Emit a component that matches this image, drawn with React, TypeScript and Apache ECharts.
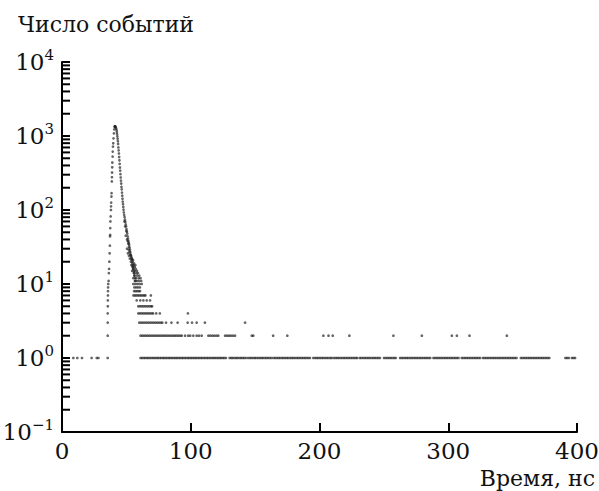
import { useEffect, useRef } from "react";
import * as echarts from "echarts";

// Event counts per time bin; each row is one integer count level.
const level1X = [
  8.8, 11.9, 15.5, 23, 27, 28.3,
  61, 62.2, 63.5, 64.7, 66, 67.1, 68.4, 69.6, 70.9, 72.1, 73.4, 74.5, 75.8, 77, 78.3, 79.4, 80.7, 81.9, 83.2, 84.3,
  85.6, 86.8, 88.1, 89.2, 90.5, 91.7, 93, 94.1, 95.4, 96.6, 97.9, 99, 100.3, 101.5, 102.8, 103.9, 105.2, 106.4,
  107.7, 108.8, 110.1, 111.3, 112.6, 113.7, 115, 116.2, 117.5, 118.6, 119.9, 121.1, 122.4, 123.5, 124.8, 126, 127.3,
  130.2, 131.5, 132.6, 134, 135.3, 136.4, 137.8, 139, 140.3, 141.5, 142.9, 144.6, 146, 147.2, 148.6, 149.8, 151,
  152.4, 153.7, 155, 156.1, 157.5, 158.8, 160, 161.4, 162.7,
  164.3, 165.6, 166.9, 168.2, 169.4, 170.8, 172, 173.3, 174.6, 175.8, 177.2, 178.5, 179.7, 181, 182.4, 183.6,
  184.9, 186.2, 187.5, 188.7, 190, 191.3, 192.6,
  195.2, 196.6, 197.9, 199.1, 200.5, 201.8, 203, 204.4, 205.7, 207, 208.4, 209.5,
  211.2, 212.5, 213.8, 215, 216.4, 217.7, 219, 220.3, 221.6, 222.9, 224.2, 225.5, 226.8, 228.1, 229.2,
  231.2, 232.5, 233.9, 235.2, 236.5, 237.8, 239, 240.4, 241.7, 243, 244.3, 245.6, 246.9,
  250.1, 251.5, 252.8, 254.1, 255.4, 256.7, 258, 259.2,
  262.6, 263.9, 265.2, 266.5, 267.8, 269, 270.4, 271.7, 273, 274.3, 275.6, 276.9, 278.2, 279.5, 280.8, 282.1,
  283.4, 284.7, 286,
  288.5, 289.8, 291.1, 292.4, 293.7, 295, 296.3, 297.6, 298.9, 300.2, 301.5, 302.8, 304.1, 305.4, 306.7, 308,
  310.5, 311.8, 313.1, 314.4, 315.7, 317, 318.3, 319.6, 320.9, 322.2, 323.5, 324.8,
  327, 328.3, 329.6, 330.9, 332.2, 333.5, 334.8, 336.1, 337.4, 338.7, 340, 341.3, 342.6, 343.9, 345.2, 346.5,
  347.8, 349.1, 350.4, 351.7, 353,
  356.4, 357.7, 359, 360.3, 361.6, 362.9, 364.2, 365.5, 366.8, 368.1, 369.4, 370.7, 372, 373.3, 374.6, 375.9,
  377.2, 378.5,
  391, 392.3, 393.6, 396, 397.3, 398.5,
];
const level2X = [
  61, 62.4, 63.8, 65.2, 66.6, 68, 69.4, 70.8, 72.2, 73.6, 75, 76.4, 77.8, 79.2, 80.6, 82, 83.4, 84.8, 86.2, 87.6,
  88.9, 90.3, 91.7, 93, 95.6, 98, 99.6, 102, 104.6, 106.4, 108.5, 113.7, 115.2, 116.8, 118.3, 119.9, 121.4,
  126.7, 128.2, 129.7, 131.2, 132.8, 134.4, 147.4, 148.6, 164, 175, 203, 207, 210.3, 223.2, 257.4, 279.5,
  302.8, 306.7, 316.5, 345.5,
];
const level3X = [
  60, 61.4, 62.8, 64.2, 65.6, 67, 68.4, 69.8, 71.2, 72.6, 74, 75.4, 76.8, 77.9, 80.8, 85, 89.8, 97.6, 101,
  104.6, 111, 142.2,
];
const level4X = [59.3, 60.6, 61.9, 63.2, 64.5, 65.8, 67.1, 68.4, 69.7, 70.8, 73.2, 76, 97.8];
const level5X = [59.3, 60.7, 62.1, 63.5, 64.9, 66.3, 67.7, 69.1, 70];
const level6X = [58, 60.8, 63.2, 65.8, 68.4];
const level7X = [55.5, 56.7, 57.9, 59.1, 60.3, 61.5, 62.7, 63.9, 64.8, 69];
const level8X = [56, 57.2, 58.4, 59.6, 60.6];
const level9X = [56.2, 57.6, 59, 60.5];
const level10X = [55.4, 57, 58.6, 60.2, 61.9];

// Leading edge of the peak: [time, count]
const risingEdge: [number, number][] = [
  [35.5, 1], [35.5, 2], [35.5, 3], [35.5, 4], [35.6, 5], [35.6, 6], [35.7, 7], [35.7, 8], [35.8, 9], [35.9, 10],
  [36.2, 11], [36.4, 14], [36.6, 16], [36.8, 20], [37, 26], [37.2, 33], [37.3, 44], [37.4, 46], [37.5, 57],
  [37.6, 70], [37.8, 82], [38, 100], [38.1, 112], [38.2, 126], [38.4, 152], [38.5, 169], [38.7, 243],
  [38.8, 277], [38.9, 321], [39, 378], [39.1, 438], [39.3, 527], [39.4, 616], [39.6, 719], [39.8, 797],
  [40, 931], [40.3, 1087], [40.6, 1230], [40.9, 1330],
];

// Peak top and decaying tail: [time, count]
const fallingEdge: [number, number][] = [
  [41, 1345], [41.2, 1360], [41.5, 1340], [41.8, 1310], [42.1, 1260], [42.4, 1200], [42.6, 1130], [42.8, 1060],
  [43, 990], [43.2, 920], [43.4, 850], [43.6, 780], [43.8, 700], [44, 640], [44.2, 580], [44.4, 520],
  [44.6, 470], [44.8, 420], [45, 375], [45.2, 340], [45.4, 305], [45.6, 275], [45.8, 250], [46, 228],
  [46.2, 205], [46.4, 190], [46.6, 172], [46.8, 156], [47, 142], [47.2, 130], [47.4, 120], [47.6, 110],
  [47.8, 101], [48, 93], [48.3, 86], [48.6, 80], [48.9, 74], [49.2, 69], [49.5, 64], [49.8, 60], [50.1, 55],
  [50.4, 51], [50.7, 48], [51, 44], [51.3, 41], [51.6, 38], [51.9, 36], [52.2, 34], [52.5, 31], [52.8, 29],
  [53.1, 27], [53.4, 25], [53.7, 24], [54, 22], [54.3, 21], [54.6, 19], [54.9, 18], [55.2, 17], [55.5, 16],
  [55.8, 15], [56.1, 14], [56.4, 13], [56.7, 12], [57, 11],
];

// Scatter of the tail around the main decay line: [time, count]
const tailSpread: [number, number][] = [
  [48.5, 70], [49, 60], [50, 52], [49.5, 45], [50.5, 40], [51, 38], [51.5, 35], [52, 32],
  [50.5, 30], [51.8, 29], [52.4, 27], [51.2, 26], [53, 25], [52, 24], [53.8, 23], [52.7, 22], [54.4, 22],
  [55.2, 21], [53.5, 20], [54.8, 20], [56, 19], [55.5, 18], [53.9, 18], [57, 18], [54.8, 17], [56.5, 17],
  [55.2, 16], [57.3, 16], [58.2, 15], [54.5, 15], [56.6, 15], [57.8, 14], [55.8, 14], [59, 14], [56.2, 13],
  [58.4, 13], [60, 13], [55.4, 12], [57.6, 12], [59.6, 12], [61, 12], [56.6, 11], [58.2, 11], [59.8, 11],
  [61.5, 11],
];

// Minor ticks of the logarithmic count axis
const yMinorTicks = [
  0.2, 0.3, 0.4, 0.5, 0.6, 0.7, 0.8, 0.9,
  2, 3, 4, 5, 6, 7, 8, 9,
  20, 30, 40, 50, 60, 70, 80, 90,
  200, 300, 400, 500, 600, 700, 800, 900,
  2000, 3000, 4000, 5000, 6000, 7000, 8000, 9000,
];

const levelRows: number[][] = [
  level1X, level2X, level3X, level4X, level5X, level6X, level7X, level8X, level9X, level10X,
];

const SERIF = "DejaVu Serif";

export default function App() {
  const ref = useRef<HTMLDivElement>(null);

  useEffect(() => {
    if (!ref.current) return;
    const chart = echarts.init(ref.current, null, { renderer: "svg" });

    const points: [number, number][] = [];
    levelRows.forEach((xs, i) => xs.forEach((x) => points.push([x, i + 1])));
    risingEdge.forEach((p) => points.push(p));
    fallingEdge.forEach((p) => points.push(p));
    tailSpread.forEach((p) => points.push(p));

    chart.setOption({
      animation: false,
      backgroundColor: "#fff",
      textStyle: { fontFamily: SERIF },
      grid: {
        left: 62,
        right: 22,
        top: 62,
        bottom: 59,
        containLabel: false,
        outerBoundsMode: "none",
      },
      xAxis: {
        type: "value",
        min: 0,
        max: 400,
        interval: 100,
        axisLine: { show: true, onZero: false, lineStyle: { color: "#000", width: 2 } },
        axisTick: { show: true, inside: true, length: 9, lineStyle: { color: "#000", width: 2 } },
        splitLine: { show: false },
        axisLabel: { margin: 8, fontSize: 23, fontFamily: SERIF, color: "#111", lineHeight: 22 },
      },
      yAxis: {
        type: "log",
        logBase: 10,
        min: 0.1,
        max: 10000,
        axisLine: { show: true, onZero: false, lineStyle: { color: "#000", width: 2 } },
        axisTick: { show: true, inside: true, length: 8, lineStyle: { color: "#000", width: 2 } },
        splitLine: { show: false },
        axisLabel: {
          margin: 8,
          fontFamily: SERIF,
          formatter: (v: number) => {
            const e = Math.round(Math.log10(v));
            return `{b|10}{s|${e < 0 ? "\u2212" + -e : e}}`;
          },
          rich: {
            b: { fontSize: 23, fontFamily: SERIF, color: "#111", lineHeight: 29, verticalAlign: "middle" },
            s: { fontSize: 15, fontFamily: SERIF, color: "#111", lineHeight: 15, verticalAlign: "top" },
          },
        },
      },
      graphic: [
        {
          type: "text",
          left: 18,
          top: 13,
          style: { text: "Число событий", fontSize: 22, lineHeight: 22, fontFamily: SERIF, fill: "#111" },
        },
        {
          type: "text",
          right: 4,
          top: 467,
          style: { text: "Время, нс", fontSize: 22, lineHeight: 22, fontFamily: SERIF, fill: "#111" },
        },
      ],
      series: [
        {
          type: "custom",
          silent: true,
          clip: false,
          z: 3,
          data: yMinorTicks.map((v) => [0, v]),
          encode: { x: 0, y: 1 },
          renderItem: (_params: any, api: any) => {
            const p = api.coord([0, api.value(1)]);
            return {
              type: "line",
              shape: { x1: p[0], y1: p[1], x2: p[0] + 8, y2: p[1] },
              style: { stroke: "#000", lineWidth: 2 },
            };
          },
        },
        {
          type: "scatter",
          symbol: "circle",
          symbolSize: 2.7,
          silent: true,
          itemStyle: { color: "rgba(30,30,30,0.85)" },
          data: points,
        },
      ],
    });

    return () => chart.dispose();
  }, []);

  return (
    <div
      ref={ref}
      style={{ position: "fixed", left: 0, top: 0, width: 599, height: 491, background: "#fff" }}
    />
  );
}
